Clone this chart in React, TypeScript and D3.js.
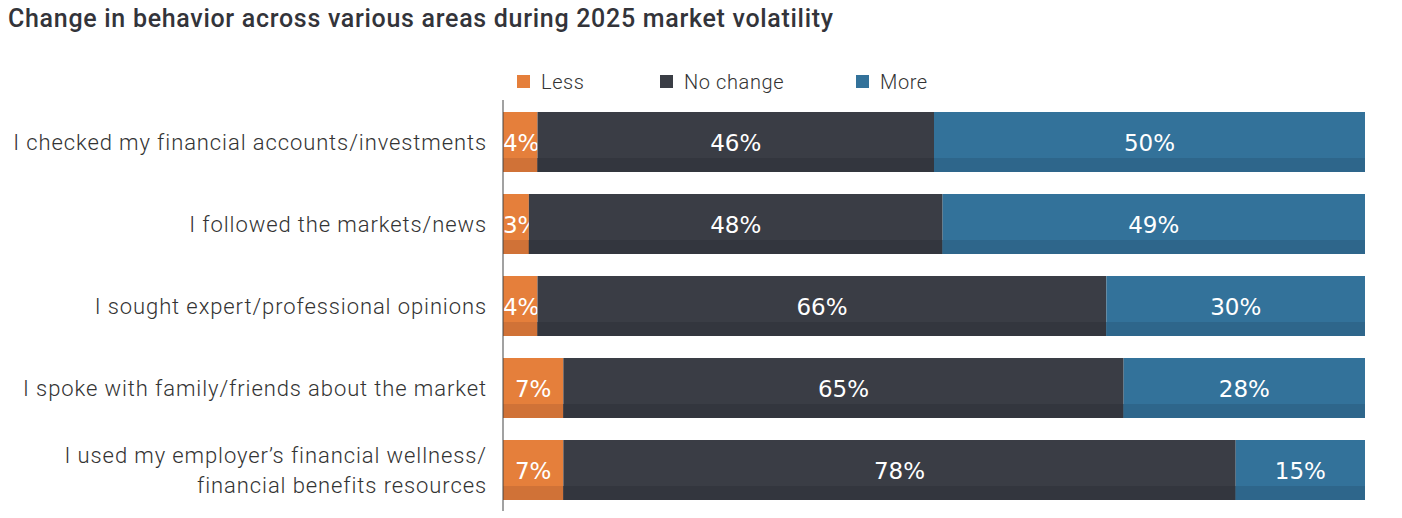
import React from "react";
import * as d3 from "d3";

const categories = [
  ["I checked my financial accounts/investments"],
  ["I followed the markets/news"],
  ["I sought expert/professional opinions"],
  ["I spoke with family/friends about the market"],
  ["I used my employer\u2019s financial wellness/", "financial benefits resources"],
];
const less = [4, 3, 4, 7, 7];
const noChange = [46, 48, 66, 65, 78];
const more = [50, 49, 30, 28, 15];
const seriesNames = ["Less", "No change", "More"];
const colors = ["#E57F3B", "#3A3D45", "#33729A"];
const bandColors = ["#D07237", "#33363E", "#2E668B"];

const W = 1402;
const H = 518;

export default function App() {
  const x = d3.scaleLinear().domain([0, 100]).range([503, 1365]);
  const y = d3.scaleBand<number>().domain(d3.range(5)).range([101, 511]).paddingInner(22 / 82).paddingOuter(11 / 82);
  const bh = y.bandwidth();
  const series = [less, noChange, more];
  const font = "Roboto, 'Noto Sans', sans-serif";
  const pctSize = 23;

  return (
    <svg width={W} height={H} style={{ position: "absolute", left: 0, top: 0 }} fontFamily={font}>
      <text x={8} y={27} fontSize={25} fontWeight={500} fill="#33343a" letterSpacing={0.7}>
        Change in behavior across various areas during 2025 market volatility
      </text>
      {seriesNames.map((n, i) => {
        const lx = [517, 660, 856][i];
        return (
          <g key={n}>
            <rect x={lx} y={75} width={13} height={13} fill={colors[i]} />
            <text x={lx + 24} y={88.5} fontSize={20} fontWeight={300} fill="#333" letterSpacing={0.6}>{n}</text>
          </g>
        );
      })}
      {categories.map((c, r) => {
        const y0 = y(r)!;
        let acc = 0;
        return (
          <g key={r}>
            {series.map((s, i) => {
              const v = s[r];
              const x0 = x(acc);
              const x1 = x(acc + v);
              acc += v;
              const label = `${v}%`;
              const half = ((label.length - 1) * 0.636 + 0.95) * pctSize / 2;
              const cx = Math.max((x0 + x1) / 2, x0 + half);
              return (
                <g key={i}>
                  <rect x={x0} y={y0} width={x1 - x0} height={bh} fill={colors[i]} />
                  <rect x={x0} y={y0 + bh - 14} width={x1 - x0} height={14} fill={bandColors[i]} />
                  <text x={cx} y={y0 + bh / 2 + 1} textAnchor="middle" dominantBaseline="central" fontSize={pctSize} fontFamily="'DejaVu Sans', sans-serif" fill="#fff">{label}</text>
                </g>
              );
            })}
            {c.map((line, li) => (
              <text key={li} x={487} y={y0 + bh / 2 + (li - (c.length - 1) / 2) * 30} textAnchor="end" dominantBaseline="central" fontSize={22} fontWeight={300} fill="#333" letterSpacing={0.9}>{line}</text>
            ))}
          </g>
        );
      })}
      <line x1={503} x2={503} y1={100} y2={511} stroke="#444" strokeWidth={1} />
    </svg>
  );
}
